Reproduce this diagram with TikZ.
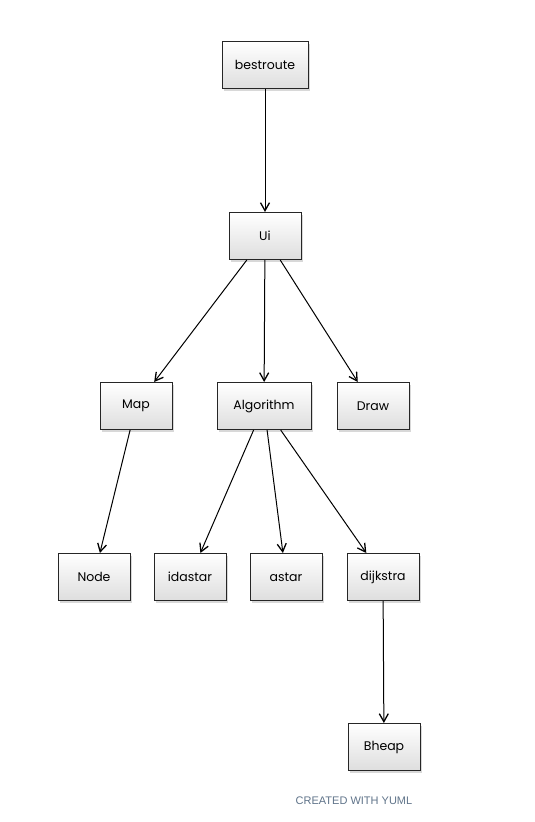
\documentclass[tikz,border=0pt]{standalone}
\usepackage{fontspec}
\setmainfont{Poppins}
\newfontfamily\footfont{Liberation Sans}
\usepackage{xcolor}
\usetikzlibrary{arrows.meta,shadows}

\definecolor{yumlfoot}{HTML}{5F7389}

\begin{document}
\begin{tikzpicture}[x=1pt, y=-1pt,
    cls/.style={draw=black!85, line width=1pt, top color=white, bottom color=black!13,
        minimum width=72pt, minimum height=47pt, inner sep=0pt,
        font=\fontsize{12.5}{14}\selectfont,
        drop shadow={shadow xshift=2pt, shadow yshift=-2pt, fill=black!30}},
    dep/.style={-{Straight Barb[length=8pt,width=9pt,line width=1.3pt]}, line width=1pt}]
    % \draw[help lines] (0,0) grid[step=50] (535,822);
    \useasboundingbox (0,0) rectangle (535,822);

    \node[cls, minimum width=86pt] (bestroute) at (265,65) {bestroute};
    \node[cls] (ui) at (265,236) {Ui};

    \node[cls] (map) at (136,406) {Map};
    \node[cls, minimum width=94pt] (algorithm) at (264,406) {Algorithm};
    \node[cls] (draw) at (373,406) {Draw};

    \node[cls] (node) at (94,577) {Node};
    \node[cls] (idastar) at (190,577) {idastar};
    \node[cls] (astar) at (286,577) {astar};
    \node[cls] (dijkstra) at (383,577) {dijkstra};
    \node[cls] (bheap) at (384,747) {Bheap};

    \draw[dep] (bestroute) -- (ui);
    \draw[dep] (ui) -- (map);
    \draw[dep] (ui) -- (algorithm);
    \draw[dep] (ui) -- (draw);
    \draw[dep] (map) -- (node);
    \draw[dep] (algorithm) -- (idastar);
    \draw[dep] (algorithm) -- (astar);
    \draw[dep] (algorithm) -- (dijkstra);
    \draw[dep] (dijkstra) -- (bheap);

    \node[text=yumlfoot, font=\footfont\fontsize{11}{13}\selectfont] (footer) at (354,801) {CREATED WITH YUML};
\end{tikzpicture}
\end{document}
